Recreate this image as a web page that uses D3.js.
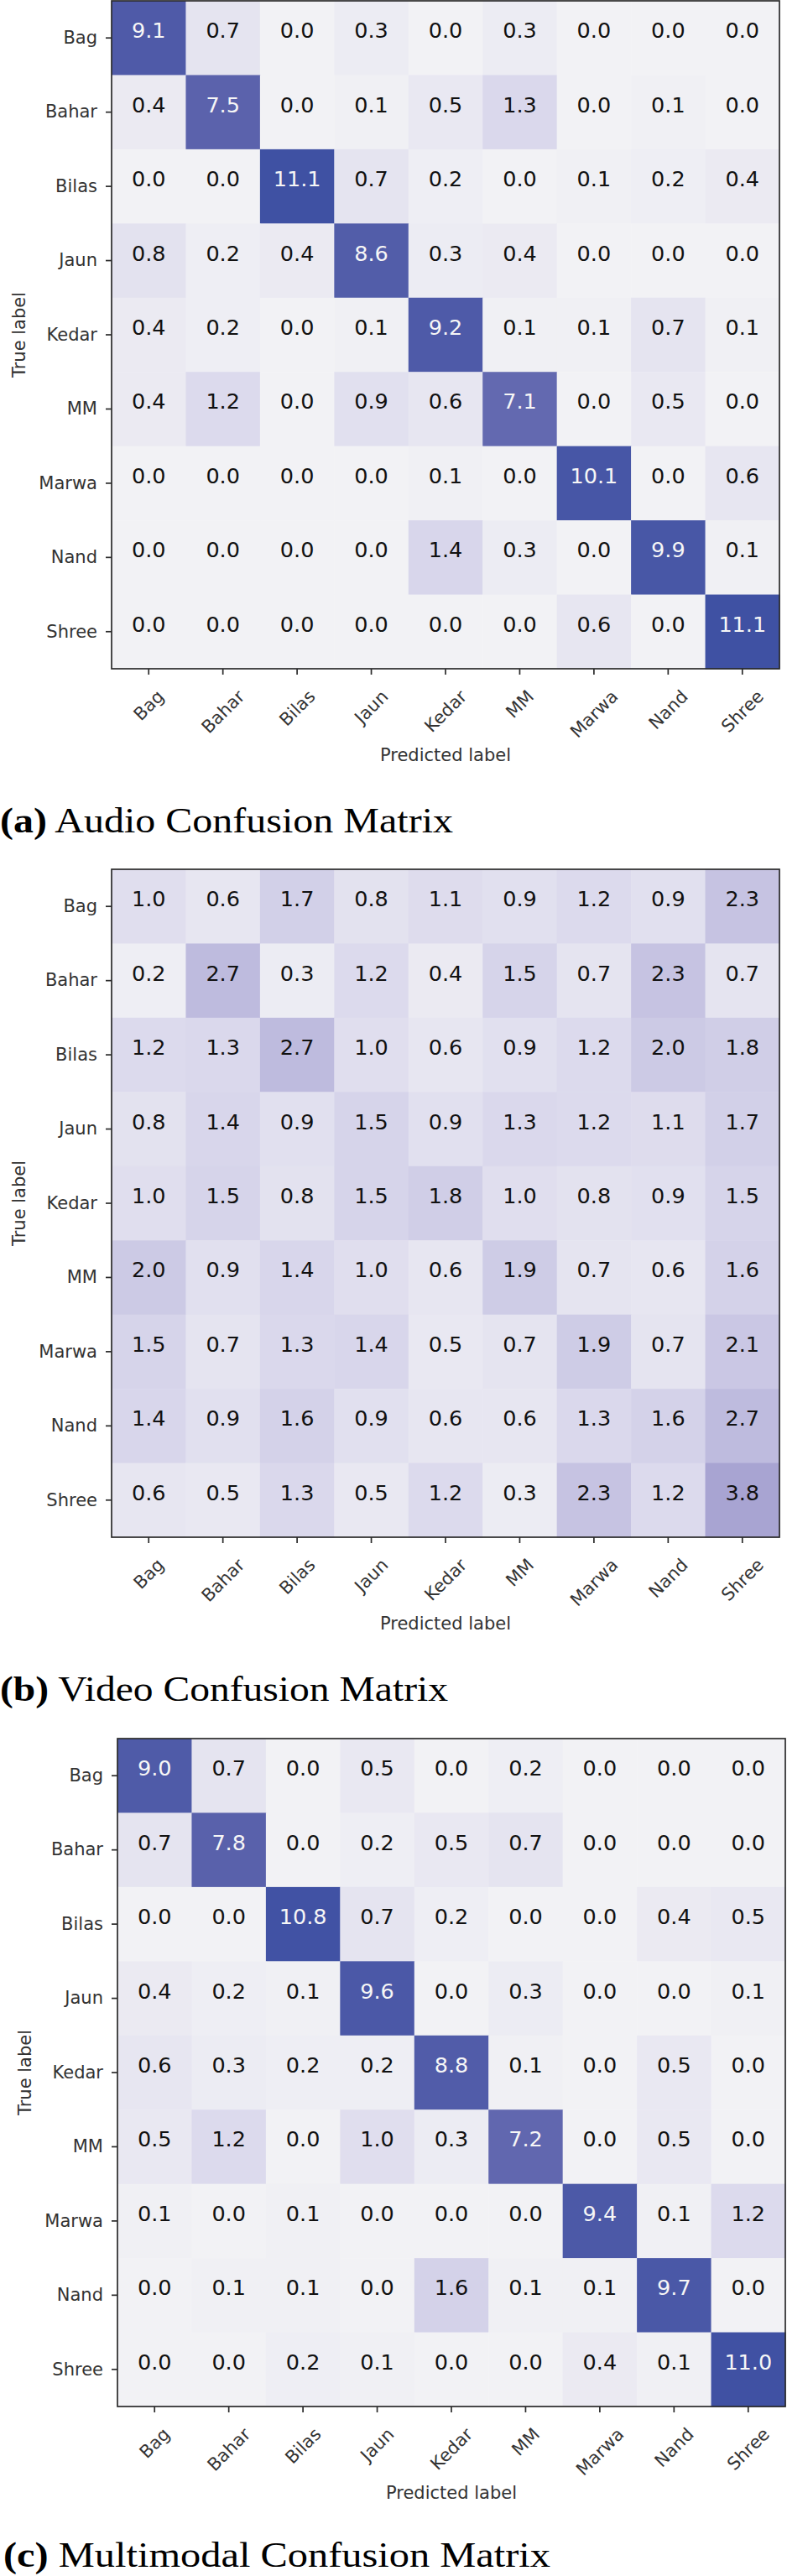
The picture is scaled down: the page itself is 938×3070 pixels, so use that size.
<!DOCTYPE html>
<html lang="en">
<head>
<meta charset="utf-8">
<title>confusion matrices</title>
<script src="https://cdn.jsdelivr.net/npm/d3@7"></script>
<style>
  body { margin: 0; background: #fff; }
  svg { display: block; }
</style>
</head>
<body>
<script>
// class names, same order on both axes
var classes = ["Bag", "Bahar", "Bilas", "Jaun", "Kedar", "MM", "Marwa", "Nand", "Shree"];

// rows = true label, columns = predicted label
var audioMatrix = [
  [9.1, 0.7, 0.0, 0.3, 0.0, 0.3, 0.0, 0.0, 0.0],
  [0.4, 7.5, 0.0, 0.1, 0.5, 1.3, 0.0, 0.1, 0.0],
  [0.0, 0.0, 11.1, 0.7, 0.2, 0.0, 0.1, 0.2, 0.4],
  [0.8, 0.2, 0.4, 8.6, 0.3, 0.4, 0.0, 0.0, 0.0],
  [0.4, 0.2, 0.0, 0.1, 9.2, 0.1, 0.1, 0.7, 0.1],
  [0.4, 1.2, 0.0, 0.9, 0.6, 7.1, 0.0, 0.5, 0.0],
  [0.0, 0.0, 0.0, 0.0, 0.1, 0.0, 10.1, 0.0, 0.6],
  [0.0, 0.0, 0.0, 0.0, 1.4, 0.3, 0.0, 9.9, 0.1],
  [0.0, 0.0, 0.0, 0.0, 0.0, 0.0, 0.6, 0.0, 11.1]
];
var videoMatrix = [
  [1.0, 0.6, 1.7, 0.8, 1.1, 0.9, 1.2, 0.9, 2.3],
  [0.2, 2.7, 0.3, 1.2, 0.4, 1.5, 0.7, 2.3, 0.7],
  [1.2, 1.3, 2.7, 1.0, 0.6, 0.9, 1.2, 2.0, 1.8],
  [0.8, 1.4, 0.9, 1.5, 0.9, 1.3, 1.2, 1.1, 1.7],
  [1.0, 1.5, 0.8, 1.5, 1.8, 1.0, 0.8, 0.9, 1.5],
  [2.0, 0.9, 1.4, 1.0, 0.6, 1.9, 0.7, 0.6, 1.6],
  [1.5, 0.7, 1.3, 1.4, 0.5, 0.7, 1.9, 0.7, 2.1],
  [1.4, 0.9, 1.6, 0.9, 0.6, 0.6, 1.3, 1.6, 2.7],
  [0.6, 0.5, 1.3, 0.5, 1.2, 0.3, 2.3, 1.2, 3.8]
];
var multiMatrix = [
  [9.0, 0.7, 0.0, 0.5, 0.0, 0.2, 0.0, 0.0, 0.0],
  [0.7, 7.8, 0.0, 0.2, 0.5, 0.7, 0.0, 0.0, 0.0],
  [0.0, 0.0, 10.8, 0.7, 0.2, 0.0, 0.0, 0.4, 0.5],
  [0.4, 0.2, 0.1, 9.6, 0.0, 0.3, 0.0, 0.0, 0.1],
  [0.6, 0.3, 0.2, 0.2, 8.8, 0.1, 0.0, 0.5, 0.0],
  [0.5, 1.2, 0.0, 1.0, 0.3, 7.2, 0.0, 0.5, 0.0],
  [0.1, 0.0, 0.1, 0.0, 0.0, 0.0, 9.4, 0.1, 1.2],
  [0.0, 0.1, 0.1, 0.0, 1.6, 0.1, 0.1, 9.7, 0.0],
  [0.0, 0.0, 0.2, 0.1, 0.0, 0.0, 0.4, 0.1, 11.0]
];

var captionTags = ["(a)", "(b)", "(c)"];
var captionTexts = [" Audio Confusion Matrix", " Video Confusion Matrix", " Multimodal Confusion Matrix"];

var W = 938, H = 3070;
var size = 796;
// where each panel sits on the page
var panels = [
  { m: audioMatrix, left: 133, top: 1, capX: 0, capLen: 540 },
  { m: videoMatrix, left: 133, top: 1036, capX: 0, capLen: 534 },
  { m: multiMatrix, left: 140, top: 2072, capX: 4, capLen: 652 }
];

var color = d3.scaleLinear()
  .domain([0, 1.3, 2.7, 3.8, 7.5, 11.1])
  .range(["#f2f2f5", "#dad8ec", "#bebbde", "#a8a4d2", "#5b62ac", "#3f51a3"])
  .interpolate(d3.interpolateRgb)
  .clamp(true);

var tickFont = 21, cellFont = 25.5;

var svg = d3.select("body").append("svg")
  .attr("width", W)
  .attr("height", H);

panels.forEach(function(p, k) {
  var g = svg.append("g");

  var x = d3.scaleBand().domain(classes).range([p.left, p.left + size]);
  var y = d3.scaleBand().domain(classes).range([p.top, p.top + size]);

  var cells = [];
  p.m.forEach(function(row, i) {
    row.forEach(function(v, j) {
      cells.push({ t: classes[i], pr: classes[j], v: v });
    });
  });

  g.selectAll("rect.cell")
    .data(cells)
    .enter()
    .append("rect")
    .attr("class", "cell")
    .attr("x", function(d) { return x(d.pr); })
    .attr("y", function(d) { return y(d.t); })
    .attr("width", x.bandwidth() + 0.5)
    .attr("height", y.bandwidth() + 0.5)
    .attr("fill", function(d) { return color(d.v); });

  g.selectAll("text.val")
    .data(cells)
    .enter()
    .append("text")
    .attr("class", "val")
    .attr("x", function(d) { return x(d.pr) + x.bandwidth() / 2; })
    .attr("y", function(d) { return y(d.t) + y.bandwidth() / 2; })
    .attr("text-anchor", "middle")
    .attr("font-family", "DejaVu Sans")
    .attr("font-size", cellFont)
    .attr("fill", function(d) { return d.v > 5 ? "#f6f6f6" : "#111"; })
    .text(function(d) { return d.v.toFixed(1); });

  // frame
  g.append("rect")
    .attr("x", p.left)
    .attr("y", p.top)
    .attr("width", size)
    .attr("height", size)
    .attr("fill", "none")
    .attr("stroke", "#2b2b2b")
    .attr("stroke-width", 1.7);

  var yaxis = d3.axisLeft(y).tickSize(7).tickSizeOuter(0).tickPadding(10);
  var ya = g.append("g")
    .attr("transform", "translate(" + p.left + ",0)")
    .call(yaxis);

  var xaxis = d3.axisBottom(x).tickSize(7).tickSizeOuter(0);
  var xa = g.append("g")
    .attr("transform", "translate(0," + (p.top + size) + ")")
    .call(xaxis);

  [ya, xa].forEach(function(a) {
    a.select(".domain").remove();
    a.selectAll(".tick line").attr("stroke", "#2b2b2b").attr("stroke-width", 1.7);
    a.selectAll(".tick text")
      .attr("font-family", "DejaVu Sans")
      .attr("font-size", tickFont)
      .attr("fill", "#333");
  });

  // rotated x labels, bbox centred on tick, top of bbox 20px under the axis
  xa.selectAll(".tick text").each(function() {
    var t = d3.select(this);
    t.attr("y", 0).attr("x", 0).attr("dy", "0.35em").attr("text-anchor", "middle");
    var w = this.getComputedTextLength();
    var half = (w + tickFont * 1.164) * Math.SQRT1_2 / 2;
    t.attr("transform", "translate(0," + (20.5 + half) + ") rotate(-45)");
  });

  g.append("text")
    .attr("transform", "translate(" + (p.left - 103) + "," + (p.top + size / 2) + ") rotate(-90)")
    .attr("text-anchor", "middle")
    .attr("font-family", "DejaVu Sans")
    .attr("font-size", tickFont)
    .attr("fill", "#333")
    .text("True label");

  g.append("text")
    .attr("x", p.left + size / 2)
    .attr("y", p.top + size + 110)
    .attr("text-anchor", "middle")
    .attr("font-family", "DejaVu Sans")
    .attr("font-size", tickFont)
    .attr("fill", "#333")
    .text("Predicted label");

  // keep the last caption's parentheses inside the page
  var capY = Math.min(p.top + size + 195, H - 11);
  var cap = g.append("text")
    .attr("x", p.capX)
    .attr("y", capY)
    .attr("font-family", "Liberation Serif")
    .attr("font-size", 42)
    .attr("fill", "#000")
    .attr("textLength", p.capLen)
    .attr("lengthAdjust", "spacingAndGlyphs");
  cap.append("tspan").attr("font-weight", "bold").text(captionTags[k]);
  cap.append("tspan").text(captionTexts[k]);
});
</script>
</body>
</html>
